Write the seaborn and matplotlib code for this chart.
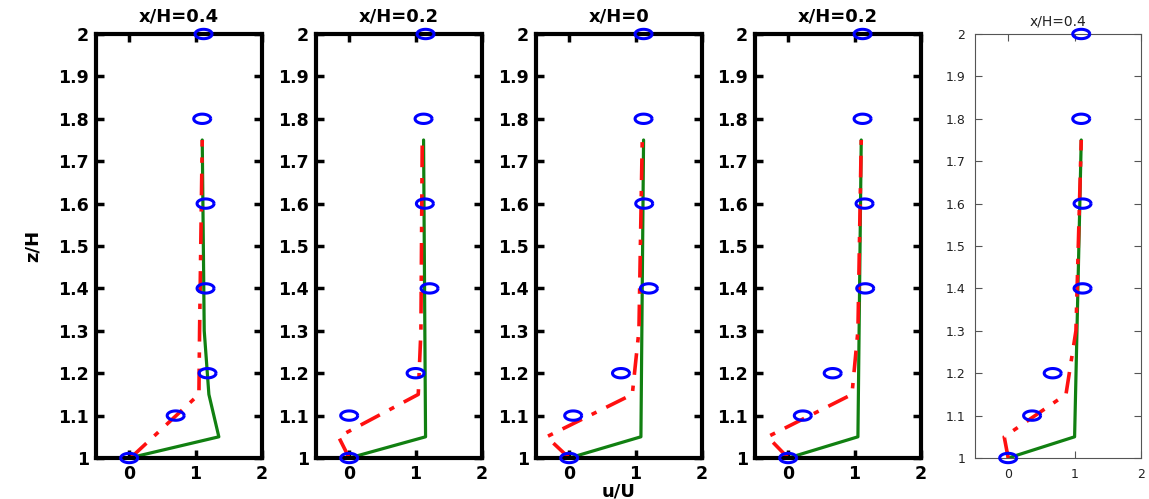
import matplotlib
matplotlib.use('Agg')
import matplotlib.pyplot as plt
import numpy as np
import pandas as pd
import seaborn as sns
from matplotlib.path import Path

sns.set_theme(style='white')
plt.rcParams['font.family'] = ['DejaVu Sans']
plt.rcParams.update({'text.color': 'black', 'axes.labelcolor': 'black',
                     'xtick.color': 'black', 'ytick.color': 'black'})

titles = ['x/H=0.4', 'x/H=0.2', 'x/H=0', 'x/H=0.2', 'x/H=0.4']

# measured profiles (blue circles)
z_exp = [1.0, 1.1, 1.2, 1.4, 1.6, 1.8, 2.0]
u_exp = [
    [0.0, 0.70, 1.18, 1.15, 1.15, 1.10, 1.12],
    [0.0, 0.00, 1.00, 1.21, 1.14, 1.12, 1.15],
    [0.0, 0.06, 0.78, 1.20, 1.13, 1.12, 1.12],
    [0.0, 0.22, 0.67, 1.16, 1.15, 1.12, 1.12],
    [0.0, 0.36, 0.67, 1.12, 1.12, 1.10, 1.10],
]

# green solid model
z_green = [
    [1.0, 1.05, 1.15, 1.3, 1.75],
    [1.0, 1.05, 1.75],
    [1.0, 1.05, 1.75],
    [1.0, 1.05, 1.75],
    [1.0, 1.05, 1.75],
]
u_green = [
    [0.0, 1.35, 1.20, 1.13, 1.10],
    [0.0, 1.15, 1.12],
    [0.0, 1.08, 1.12],
    [0.0, 1.05, 1.10],
    [0.0, 1.00, 1.10],
]

# red dash-dot model
z_red = [
    [1.0, 1.15, 1.3, 1.75],
    [1.0, 1.05, 1.15, 1.3, 1.75],
    [1.0, 1.05, 1.15, 1.3, 1.75],
    [1.0, 1.05, 1.15, 1.3, 1.75],
    [1.0, 1.05, 1.15, 1.3, 1.75],
]
u_red = [
    [0.02, 1.05, 1.06, 1.10],
    [0.0, -0.16, 1.04, 1.08, 1.10],
    [0.0, -0.34, 0.95, 1.05, 1.10],
    [0.0, -0.31, 0.96, 1.05, 1.10],
    [0.0, -0.06, 0.87, 1.02, 1.10],
]

t = np.linspace(0, 2 * np.pi, 40)
ellipse = Path(np.column_stack([np.cos(t), 0.55 * np.sin(t)]))

fig = plt.figure(figsize=(11.49, 4.99), dpi=100)
W, H = 1149, 499
lefts = [96, 316, 536, 755, 975]

for i in range(5):
    ax = fig.add_axes([lefts[i] / W, (H - 458) / H, 166 / W, 424 / H])
    last = i == 4

    g = pd.DataFrame({'u': u_green[i], 'z': z_green[i]})
    r = pd.DataFrame({'u': u_red[i], 'z': z_red[i]})
    e = pd.DataFrame({'u': u_exp[i], 'z': z_exp})

    sns.lineplot(data=g, x='u', y='z', sort=False, estimator=None, ax=ax,
                 color='#118011', linewidth=2.3)
    sns.lineplot(data=r, x='u', y='z', sort=False, estimator=None, ax=ax,
                 color='#ff1010', linewidth=2.6, linestyle=(0, (6, 3, 1.5, 3)))
    sns.scatterplot(data=e, x='u', y='z', ax=ax, marker=ellipse, s=150,
                    facecolors='none', edgecolor='#0000ff', linewidth=2.2,
                    zorder=5, clip_on=False)

    ax.set_xlim(-0.5, 2)
    ax.set_ylim(1, 2)
    ax.set_xticks([0, 1, 2])
    ax.set_xticklabels(['0', '1', '2'])
    yt = np.round(np.arange(1.0, 2.01, 0.1), 1)
    ax.set_yticks(yt)
    ax.set_yticklabels([('%g' % v) for v in yt])
    ax.set_xlabel('')
    ax.set_ylabel('')

    if last:
        for s in ax.spines.values():
            s.set_linewidth(0.8)
            s.set_color('#555555')
        ax.tick_params(direction='in', length=5, width=0.8, color='#555555',
                       labelsize=9, pad=7, top=True, right=True,
                       bottom=True, left=True, labelcolor='#222222')
        ax.set_title(titles[i], fontsize=10, pad=6, color='#222222')
    else:
        for s in ax.spines.values():
            s.set_linewidth(3)
            s.set_color('black')
        ax.tick_params(direction='in', length=6, width=2.5, color='black',
                       labelsize=12.5, pad=5, top=True, right=True,
                       bottom=True, left=True)
        for lab in ax.get_xticklabels() + ax.get_yticklabels():
            lab.set_fontweight('bold')
        ax.set_title(titles[i], fontsize=13, fontweight='bold', pad=9)

    if i == 0:
        ax.set_ylabel('z/H', fontsize=13, fontweight='bold', labelpad=12)
    if i == 2:
        ax.set_xlabel('u/U', fontsize=13, fontweight='bold', labelpad=0)

fig.savefig('out.png', dpi=100)
